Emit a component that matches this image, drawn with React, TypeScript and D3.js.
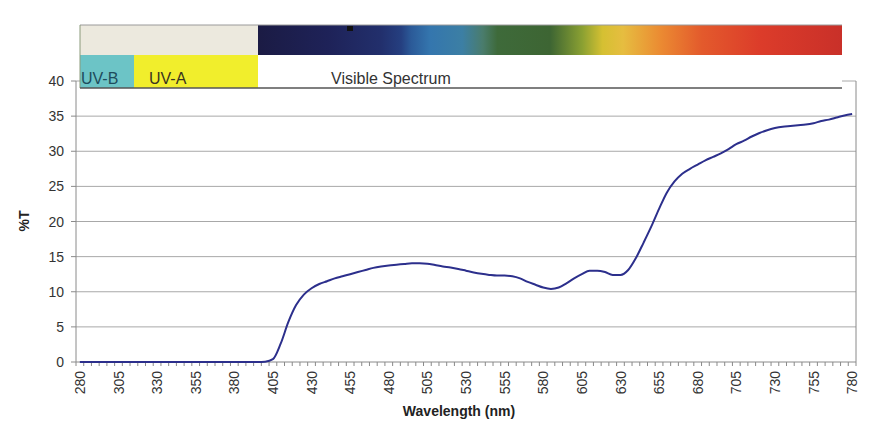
import React from "react";
import * as d3 from "d3";

const wavelengths: number[] = d3.range(280, 781, 5);
const transmission: number[] = [
  0, 0, 0, 0, 0, 0, 0, 0, 0, 0, 0, 0, 0, 0, 0, 0, 0, 0, 0, 0, 0, 0, 0, 0,
  0.05, 0.4, 2.6, 5.7, 8.1, 9.6, 10.5, 11.1, 11.5, 11.9, 12.2, 12.5, 12.8,
  13.1, 13.4, 13.6, 13.75, 13.85, 13.95, 14.05, 14.05, 14.0, 13.8, 13.6,
  13.45, 13.25, 13.0, 12.75, 12.55, 12.4, 12.3, 12.3, 12.2, 11.9, 11.4, 11.0,
  10.6, 10.4, 10.6, 11.2, 11.9, 12.5, 13.0, 13.0, 12.8, 12.4, 12.4, 13.1,
  14.8, 17.0, 19.3, 21.8, 24.1, 25.7, 26.8, 27.5, 28.1, 28.7, 29.2, 29.7,
  30.3, 31.0, 31.5, 32.1, 32.6, 33.0, 33.3, 33.5, 33.6, 33.7, 33.8, 34.0,
  34.3, 34.5, 34.8, 35.1, 35.3,
];
const xTickLabels: number[] = [
  280, 305, 330, 355, 380, 405, 430, 455, 480, 505, 530, 555, 580, 605, 630,
  655, 680, 705, 730, 755, 780,
];
const yTickValues: number[] = [0, 5, 10, 15, 20, 25, 30, 35, 40];
const bandLabels: string[] = ["UV-B", "UV-A", "Visible Spectrum"];

const spectrumStops: [number, string][] = [
  [0, "#1b1b44"],
  [0.12, "#1e2258"],
  [0.21, "#222f6c"],
  [0.245, "#253f80"],
  [0.262, "#2b5a98"],
  [0.295, "#3476ae"],
  [0.35, "#3c7fa4"],
  [0.385, "#4a7c6c"],
  [0.41, "#3e6a3a"],
  [0.5, "#3d6533"],
  [0.555, "#8aa032"],
  [0.59, "#d5c032"],
  [0.625, "#e6bd40"],
  [0.69, "#eb8a32"],
  [0.76, "#e35a2c"],
  [0.86, "#dc3c2a"],
  [1, "#c93029"],
];

const W = 877;
const H = 432;
const left = 76;
const right = 856;
const top = 81;
const bottom = 362;
const FONT = "'Liberation Sans', Arial, sans-serif";

export default function App() {
  const x = d3
    .scaleBand<number>()
    .domain(wavelengths)
    .range([left, right])
    .paddingInner(0)
    .paddingOuter(0);
  const bw = x.bandwidth();
  const cx = (w: number) => (x(w) as number) + bw / 2;
  const y = d3.scaleLinear().domain([0, 40]).range([bottom, top]);

  const line = d3
    .line<number>()
    .x((_, i) => cx(wavelengths[i]))
    .y((d) => y(d))
    .curve(d3.curveMonotoneX);

  const boundaries = wavelengths.map((w) => x(w) as number).concat([right]);

  const picL = 80;
  const picR = 842;
  const picT = 25;
  const picMid = 55;
  const picB = 88;
  const uvbR = 134;
  const uvaR = 258;

  return (
    <svg
      width={W}
      height={H}
      style={{ display: "block", position: "absolute", left: 0, top: 0 }}
    >
      <defs>
        <linearGradient id="spec" x1="0" x2="1" y1="0" y2="0">
          {spectrumStops.map(([o, c], i) => (
            <stop key={i} offset={o} stopColor={c} />
          ))}
        </linearGradient>
      </defs>
      <rect x={0} y={0} width={W} height={H} fill="#fff" />

      {yTickValues
        .filter((v) => v > 0)
        .map((v) => (
          <line
            key={v}
            x1={left}
            x2={right}
            y1={y(v)}
            y2={y(v)}
            stroke="#a8a8a8"
            strokeWidth={1}
          />
        ))}

      <line x1={left} x2={left} y1={top} y2={bottom} stroke="#8a8a8a" />
      <line x1={right} x2={right} y1={top} y2={bottom} stroke="#8a8a8a" />
      <line x1={left} x2={right} y1={bottom} y2={bottom} stroke="#8a8a8a" />
      {yTickValues.map((v) => (
        <line
          key={v}
          x1={left - 5}
          x2={left}
          y1={y(v)}
          y2={y(v)}
          stroke="#8a8a8a"
        />
      ))}
      {boundaries.map((b, i) => (
        <line
          key={i}
          x1={b}
          x2={b}
          y1={bottom}
          y2={bottom + 4}
          stroke="#8a8a8a"
        />
      ))}

      {yTickValues.map((v) => (
        <text
          key={v}
          x={64}
          y={y(v)}
          dy="0.36em"
          textAnchor="end"
          fontFamily={FONT}
          fontSize={14}
          fill="#333"
        >
          {v}
        </text>
      ))}

      {xTickLabels.map((w) => (
        <text
          key={w}
          transform={`translate(${cx(w)},${bottom + 9}) rotate(-90)`}
          textAnchor="end"
          dy="0.36em"
          fontFamily={FONT}
          fontSize={14}
          fill="#333"
        >
          {w}
        </text>
      ))}

      <text
        x={459}
        y={416}
        textAnchor="middle"
        fontFamily={FONT}
        fontSize={14}
        fontWeight="bold"
        fill="#222"
      >
        Wavelength (nm)
      </text>
      <text
        transform={`translate(29,221) rotate(-90)`}
        textAnchor="middle"
        fontFamily={FONT}
        fontSize={14}
        fontWeight="bold"
        fill="#222"
      >
        %T
      </text>

      <path
        d={line(transmission) || ""}
        fill="none"
        stroke="#2c2f8c"
        strokeWidth={2}
        strokeLinejoin="round"
      />

      <rect x={picL} y={picT} width={picR - picL} height={picB - picT} fill="#fff" />
      <rect x={picL} y={picT} width={uvaR - picL} height={picMid - picT} fill="#ece9de" />
      <rect x={uvaR} y={picT} width={picR - uvaR} height={picMid - picT} fill="url(#spec)" />
      <rect x={347} y={26} width={6} height={5} fill="#111" />
      <rect x={picL} y={picMid} width={uvbR - picL} height={picB - picMid} fill="#6cc4c6" />
      <rect x={uvbR} y={picMid} width={uvaR - uvbR} height={picB - picMid} fill="#f1ee2c" />
      <line x1={picL} x2={picR} y1={picT} y2={picT} stroke="#9a9a9a" strokeWidth={1} />
      <line x1={picL} x2={picL} y1={picT} y2={picB} stroke="#8a9a7a" strokeWidth={1} />
      <line x1={picL} x2={picR} y1={picB} y2={picB} stroke="#555" strokeWidth={1.5} />
      <text x={81} y={84} fontFamily={FONT} fontSize={16} fill="#1e4c5c">
        {bandLabels[0]}
      </text>
      <text x={149} y={84} fontFamily={FONT} fontSize={16} fill="#3a3520">
        {bandLabels[1]}
      </text>
      <text x={331} y={84} fontFamily={FONT} fontSize={16} fill="#333">
        {bandLabels[2]}
      </text>
    </svg>
  );
}
